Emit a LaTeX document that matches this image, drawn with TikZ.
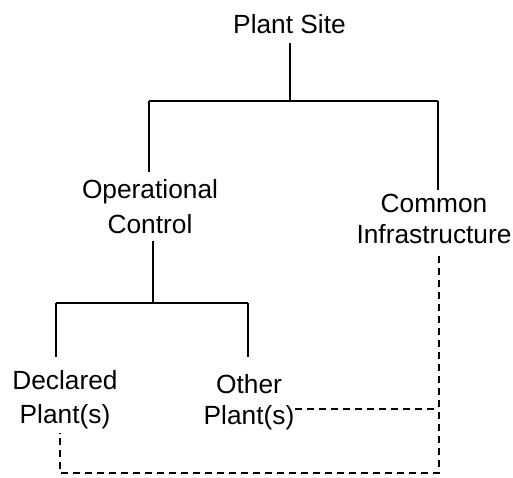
\documentclass[tikz,border=0pt]{standalone}
\usepackage{fontspec}
\setmainfont{Liberation Sans}
\begin{document}
\begin{tikzpicture}[x=1pt,y=-1pt,line width=1.6pt,
  lbl/.style={inner sep=0pt,align=center,anchor=base,font=\fontsize{26.3}{33}\selectfont},
  dashlink/.style={line width=1.3pt,dash pattern=on 7pt off 5pt}]
\useasboundingbox (0,0) rectangle (513,477);
\node[lbl] (ps) at (289.5,33) {Plant Site};
\node[lbl,font=\fontsize{26.3}{35}\selectfont] (op) at (150,233) {Operational\\Control};
\node[lbl,font=\fontsize{26.3}{31}\selectfont] (ci) at (434,243) {Common\\Infrastructure};
\node[lbl,font=\fontsize{26.3}{34}\selectfont] (dp) at (65,423) {Declared\\Plant(s)};
\node[lbl,font=\fontsize{26.3}{31}\selectfont] (ot) at (249,424) {Other\\Plant(s)};
\coordinate (j1) at (290,101);
\coordinate (bl) at (149,101);
\coordinate (br) at (438,101);
\coordinate (j2) at (153,303);
\coordinate (b3) at (56,303);
\coordinate (b4) at (248,303);
\coordinate (d1) at (439,473);
\coordinate (d2) at (60,473);
\coordinate (m) at (439,409);
\draw ([yshift=-9pt]ps.south -| j1) -- (j1);
\draw (bl) -- (br);
\draw (bl) -- ([yshift=6pt]bl |- op.north);
\draw (br) -- ([yshift=3pt]br |- ci.north);
\draw ([yshift=-8pt]op.base -| j2) -- (j2);
\draw (b3) -- (b4);
\draw (b3) -- ([yshift=12pt]b3 |- dp.north);
\draw (b4) -- ([yshift=16pt]b4 |- ot.north);
\draw[dashlink] ([yshift=-13pt]ci.base -| d1) -- (d1) -- (d2) -- ([yshift=-3.5pt]d2 |- dp.south);
\draw[dashlink] (ot.east |- m) -- (m);
\end{tikzpicture}
\end{document}
